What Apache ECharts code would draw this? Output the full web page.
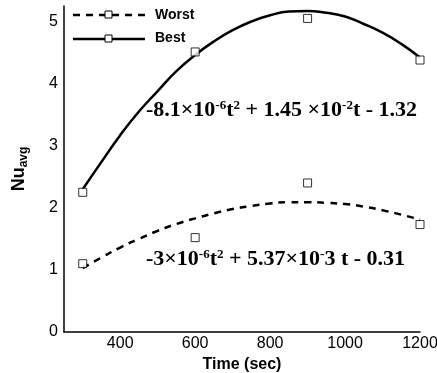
<!DOCTYPE html>
<html><head><meta charset="utf-8">
<script src="https://cdn.jsdelivr.net/npm/echarts@6/dist/echarts.min.js"></script>
<style>html,body{margin:0;padding:0;background:#fff}#c{width:437px;height:373px}</style>
</head><body><div id="c"></div>
<script>
// measured points
const times = [300, 600, 900, 1200];
const worstVals = [1.10, 1.52, 2.40, 1.73];
const bestVals = [2.25, 4.51, 5.05, 4.38];
// fitted curves
const curveT = [300, 350, 400, 450, 500, 550, 600, 650, 700, 750, 800, 850, 900, 950, 1000, 1050, 1100, 1150, 1200];
const worstCurve = [1.03, 1.20, 1.36, 1.50, 1.63, 1.74, 1.83, 1.91, 1.98, 2.03, 2.07, 2.09, 2.09, 2.08, 2.06, 2.02, 1.96, 1.89, 1.81];
const bestCurve = [2.30, 2.74, 3.17, 3.55, 3.88, 4.20, 4.46, 4.68, 4.86, 5.00, 5.10, 5.16, 5.17, 5.14, 5.08, 4.96, 4.82, 4.64, 4.42];
const xTicks = [400, 600, 800, 1000, 1200];
const yTicks = [0, 1, 2, 3, 4, 5];

const pair = (xs, ys) => xs.map((x, i) => [x, ys[i]]);
const chart = echarts.init(document.getElementById('c'));
const lblFont = {fontFamily: 'Liberation Sans', fontSize: 16, color: '#000'};
const eqFont = 'Liberation Serif';
const eqRich = {
  m: {fontFamily: eqFont, fontWeight: 'bold', fontSize: 22, color: '#000'},
  s: {fontFamily: eqFont, fontWeight: 'bold', fontSize: 13, color: '#000', padding: [0, 0, 10, 0]}
};
chart.setOption({
  animation: false,
  grid: {left: 64, right: 17, top: 6, bottom: 41, outerBoundsMode: 'none', containLabel: false},
  xAxis: {
    type: 'value', min: 250, max: 1200,
    axisLine: {show: true, lineStyle: {color: '#000', width: 1.5}},
    axisTick: {show: false},
    splitLine: {show: false},
    axisLabel: Object.assign({customValues: xTicks, margin: 4, formatter: v => String(v)}, lblFont),
    name: 'Time (sec)', nameLocation: 'middle', nameGap: 24,
    nameTextStyle: {fontFamily: 'Liberation Sans', fontWeight: 'bold', fontSize: 16, color: '#000'}
  },
  yAxis: {
    type: 'value', min: 0, max: 5.25,
    axisLine: {show: true, lineStyle: {color: '#000', width: 1.5}},
    axisTick: {show: false},
    splitLine: {show: false},
    axisLabel: Object.assign({customValues: yTicks, margin: 6, formatter: v => String(v)}, lblFont),
    name: '{a|Nu}{b|avg}', nameLocation: 'middle', nameGap: 34, nameRotate: 90,
    nameTextStyle: {rich: {
      a: {fontFamily: 'Liberation Sans', fontWeight: 'bold', fontSize: 18, color: '#000'},
      b: {fontFamily: 'Liberation Sans', fontWeight: 'bold', fontSize: 12, color: '#000', padding: [9, 0, 0, 0]}
    }}
  },
  series: [
    {type: 'line', name: 'Worst fit', data: pair(curveT, worstCurve), smooth: true, symbol: 'none',
     lineStyle: {color: '#000', width: 2.5, type: [7, 6]}},
    {type: 'line', name: 'Best fit', data: pair(curveT, bestCurve), smooth: true, symbol: 'none',
     lineStyle: {color: '#000', width: 2.5}},
    {type: 'scatter', name: 'Worst', data: pair(times, worstVals), symbol: 'rect', symbolSize: 8,
     itemStyle: {color: '#fff', borderColor: '#000', borderWidth: 1}, z: 5},
    {type: 'scatter', name: 'Best', data: pair(times, bestVals), symbol: 'rect', symbolSize: 8,
     itemStyle: {color: '#fff', borderColor: '#000', borderWidth: 1}, z: 5}
  ],
  graphic: [
    {type: 'line', shape: {x1: 73, y1: 15, x2: 145, y2: 15}, style: {stroke: '#000', lineWidth: 2.5, lineDash: [7, 6]}},
    {type: 'rect', shape: {x: 105, y: 11, width: 7, height: 7}, style: {fill: '#fff', stroke: '#000', lineWidth: 1}, z: 10},
    {type: 'text', left: 155, top: 8, style: {text: 'Worst', fontFamily: 'Liberation Sans', fontWeight: 'bold', fontSize: 14, fill: '#000'}},
    {type: 'line', shape: {x1: 73, y1: 39, x2: 145, y2: 39}, style: {stroke: '#000', lineWidth: 2.5}},
    {type: 'rect', shape: {x: 105, y: 35, width: 7, height: 7}, style: {fill: '#fff', stroke: '#000', lineWidth: 1}, z: 10},
    {type: 'text', left: 155, top: 31, style: {text: 'Best', fontFamily: 'Liberation Sans', fontWeight: 'bold', fontSize: 14, fill: '#000'}},
    {type: 'text', left: 146, top: 99, style: {
      text: '{m|-8.1×10}{s|-6}{m|t}{s|2}{m| + 1.45 ×10}{s|-2}{m|t - 1.32}', rich: eqRich}},
    {type: 'text', left: 146, top: 248, style: {
      text: '{m|-3×10}{s|-6}{m|t}{s|2}{m| + 5.37×10}{s|-}{m|3 t - 0.31}', rich: eqRich}}
  ]
});
</script></body></html>
